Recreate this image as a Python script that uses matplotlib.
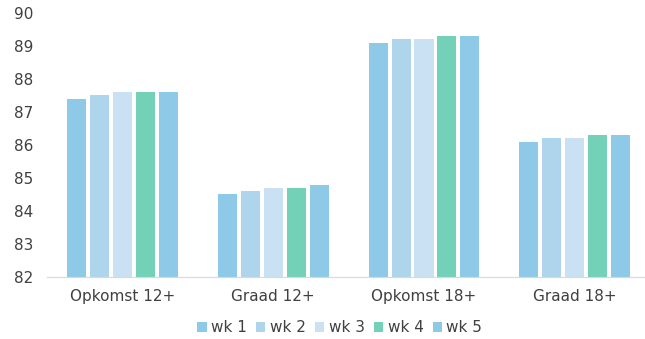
import numpy as np
import matplotlib
matplotlib.use("Agg")
import matplotlib.pyplot as plt

# Data
categories = ["Opkomst 12+", "Graad 12+", "Opkomst 18+", "Graad 18+"]
weeks = ["wk 1", "wk 2", "wk 3", "wk 4", "wk 5"]
wk1 = [87.4, 84.5, 89.1, 86.1]
wk2 = [87.5, 84.6, 89.2, 86.2]
wk3 = [87.6, 84.7, 89.2, 86.2]
wk4 = [87.6, 84.7, 89.3, 86.3]
wk5 = [87.6, 84.8, 89.3, 86.3]
series = [wk1, wk2, wk3, wk4, wk5]
colors = ["#8ecae8", "#afd5ec", "#c9e1f2", "#73d1b7", "#8ecae8"]

fig = plt.figure(figsize=(6.45, 3.39), dpi=100)
ax = fig.add_axes([0.073, 0.183, 0.935, 0.779])

x = np.arange(len(categories))
w = 0.152
for i, (vals, c, lab) in enumerate(zip(series, colors, weeks)):
    ax.bar(x + (i - 2) * w, vals, width=w * 0.83, color=c, label=lab)

ax.set_ylim(82, 90)
ax.set_yticks(range(82, 91))
ax.set_xlim(-0.5, 3.5)
ax.set_xticks(x)
ax.set_xticklabels(categories)
ax.tick_params(length=0, labelsize=11, colors="#404040")
ax.tick_params(axis="x", pad=9)
ax.tick_params(axis="y", pad=10)
for s in ["top", "right", "left"]:
    ax.spines[s].set_visible(False)
ax.spines["bottom"].set_color("#d9d9d9")

fig.legend(loc="lower center", bbox_to_anchor=(0.527, -0.03), ncol=5, frameon=False,
           fontsize=11, handlelength=0.6, handleheight=0.6, handletextpad=0.3,
           columnspacing=0.6, labelcolor="#404040")

fig.savefig("out.png", dpi=100)
